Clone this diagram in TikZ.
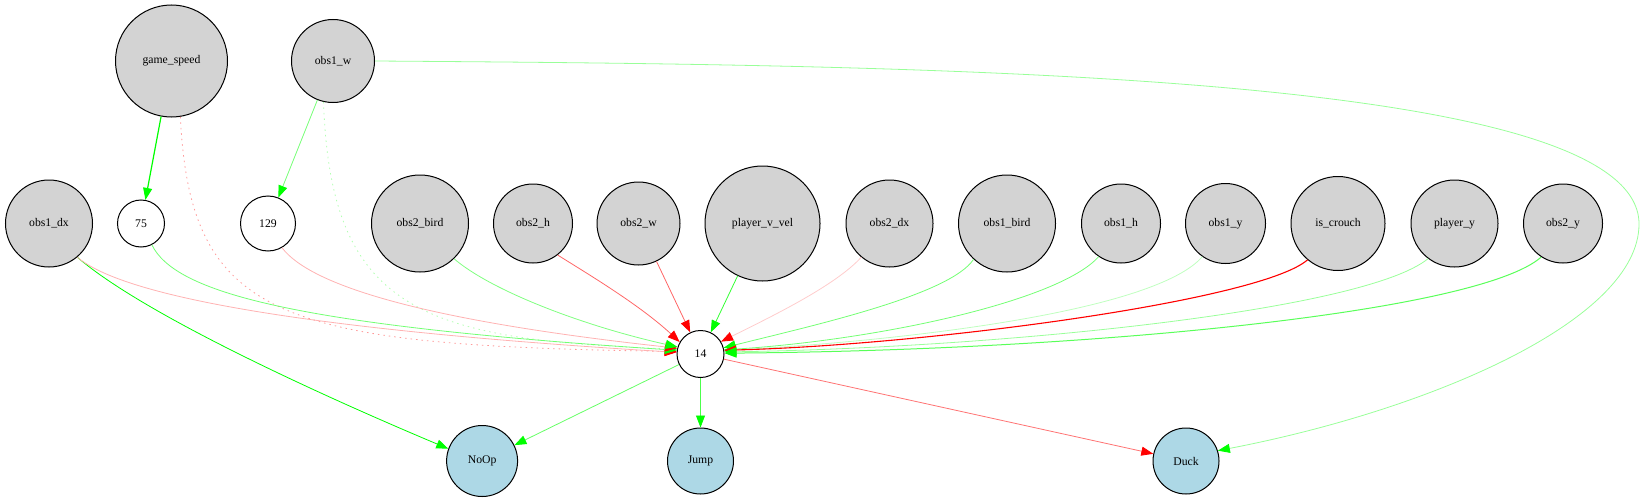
\documentclass[tikz,border=0pt]{standalone}
\usepackage{fontspec}
\setmainfont{Liberation Serif}
\usetikzlibrary{positioning,arrows.meta}
\definecolor{nodegray}{HTML}{D3D3D3}
\definecolor{nodeblue}{HTML}{ADD8E6}
\tikzset{
	feature/.style={
		circle,
		draw=black, line width=1pt,
		fill=nodegray,
		inner sep=0pt,
		font=\fontsize{11.7}{14}\selectfont,
	},
	hidden/.style={feature, fill=white},
	action/.style={feature, fill=nodeblue},
	poslink/.style={draw=green!#1!white, line width=0.8pt, -{Triangle[length=12pt,width=9pt,color=green]}},
	neglink/.style={draw=red!#1!white, line width=0.8pt, -{Triangle[length=12pt,width=9pt,color=red]}},
	dotlink/.style={dash pattern=on 1.5pt off 4pt}
}

\begin{document}
\begin{tikzpicture}[x=1pt, y=-1pt]
	\useasboundingbox (0,0) rectangle (1645,503);

	\node[feature, minimum size=112pt](GS) at (171.5,61){game\_speed};
	\node[feature, minimum size=83pt, right of=GS, node distance=161.5pt](OW){obs1\_w};

	\node[feature, minimum size=87pt](ODX) at (49,223.5){obs1\_dx};
	\node[hidden, minimum size=47pt, right of=ODX, node distance=92pt](N75){75};
	\node[hidden, minimum size=55pt, right of=N75, node distance=127pt](N129){129};
	\node[feature, minimum size=97pt, right of=N129, node distance=152pt](O2B){obs2\_bird};
	\node[feature, minimum size=79pt, right of=O2B, node distance=113pt](O2H){obs2\_h};
	\node[feature, minimum size=83pt, right of=O2H, node distance=105.5pt](O2W){obs2\_w};
	\node[feature, minimum size=115pt, right of=O2W, node distance=124pt](PVV){player\_v\_vel};
	\node[feature, minimum size=87pt, right of=PVV, node distance=127pt](O2DX){obs2\_dx};
	\node[feature, minimum size=97pt, right of=O2DX, node distance=117.5pt](O1B){obs1\_bird};
	\node[feature, minimum size=79pt, right of=O1B, node distance=114pt](O1H){obs1\_h};
	\node[feature, minimum size=80pt, right of=O1H, node distance=104.5pt](O1Y){obs1\_y};
	\node[feature, minimum size=94pt, right of=O1Y, node distance=112.5pt](IC){is\_crouch};
	\node[feature, minimum size=87pt, right of=IC, node distance=116.5pt](PY){player\_y};
	\node[feature, minimum size=79pt, right of=PY, node distance=108.5pt](O2Y){obs2\_y};

	\node[hidden, minimum size=47pt](N14) at (700.5,354){14};
	\node[action, minimum size=66pt, below of=N14, node distance=107pt](JUMP){Jump};
	\node[action, minimum size=71pt, left of=JUMP, node distance=218.4pt](NOOP){NoOp};
	\node[action, minimum size=66pt, right of=JUMP, node distance=485.5pt](DUCK){Duck};

	\coordinate (BEND) at (1639,224);

	\draw[poslink=100, line width=1.2pt] (GS) -- (N75);
	\draw[poslink=55] (OW) -- (N129);
	\draw[neglink=40, dotlink] (GS.279) .. controls +(10,203) and +(-397,-6) .. (N14.174);
	\draw[poslink=30, dotlink] (OW.257) .. controls +(7,207) and +(-257,-9) .. (N14.168);
	\draw[poslink=40] (OW.0) .. controls +(560,4) and +(0,-152) .. (BEND) .. controls +(0,96) and +(213,-41) .. (DUCK.18);

	\draw[poslink=100] (ODX.310) .. controls +(72,62) and +(-100,-42) .. (NOOP.160);
	\draw[neglink=30] (ODX.310) .. controls +(33,28) and +(-447,-27) .. (N14.176);
	\draw[poslink=55] (N75.297) .. controls +(23,47) and +(-387,-25) .. (N14.171);
	\draw[neglink=30] (N129.300) .. controls +(28,37) and +(-257,-28) .. (N14.166);
	\draw[poslink=50] (O2B.314) .. controls +(36,31) and +(-98,-22) .. (N14.163);
	\draw[neglink=60] (O2H.308) .. controls +(32,20) and +(-40,-37) .. (N14.150);
	\draw[neglink=60] (O2W) -- (N14);
	\draw[poslink=80] (PVV) -- (N14);
	\draw[neglink=20] (O2DX.230) .. controls +(-26,29) and +(46,-23) .. (N14.31);
	\draw[poslink=55] (O1B.227) .. controls +(-24,36) and +(88,-22) .. (N14.15);
	\draw[poslink=55] (O1H.236) .. controls +(-39,44) and +(156,-10) .. (N14.10);
	\draw[poslink=25] (O1Y.235) .. controls +(-42,49) and +(226,-13) .. (N14.8);
	\draw[neglink=100, line width=1.1pt] (IC.230) .. controls +(-47,41) and +(200,-5) .. (N14.9);
	\draw[poslink=40] (PY.233) .. controls +(-63,52) and +(276,-4) .. (N14.5);
	\draw[poslink=65, line width=1pt] (O2Y.237) .. controls +(-61,54) and +(376,-3) .. (N14.2);

	\draw[poslink=60] (N14) -- (NOOP);
	\draw[poslink=70] (N14) -- (JUMP);
	\draw[neglink=55] (N14) -- (DUCK);
\end{tikzpicture}
\end{document}
